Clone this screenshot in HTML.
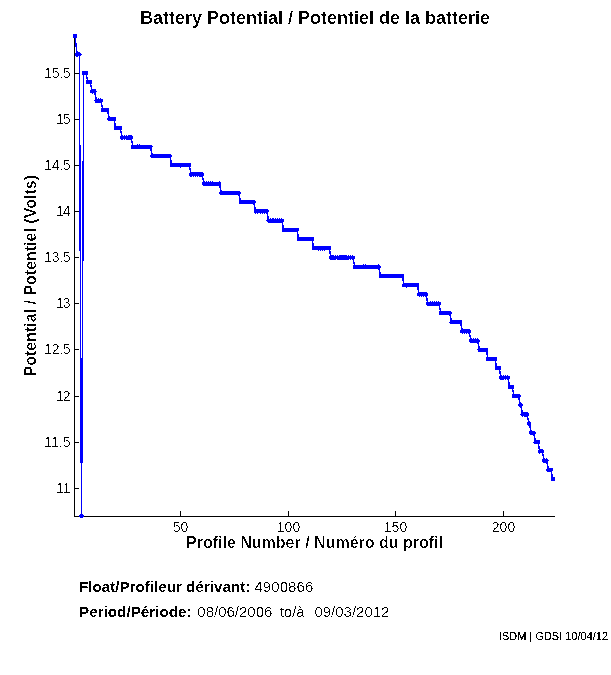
<!DOCTYPE html>
<html><head><meta charset="utf-8"><style>
html,body{margin:0;padding:0;background:#fff;}
svg{display:block;}
text{font-family:"Liberation Sans",Arial,Helvetica,sans-serif;fill:#000;}
.b{font-weight:bold;}
</style></head><body>
<svg width="611" height="675" viewBox="0 0 611 675">
<defs><filter id="thr" filterUnits="userSpaceOnUse" x="0" y="0" width="611" height="675" color-interpolation-filters="sRGB"><feComponentTransfer><feFuncA type="discrete" tableValues="0 0 0 1 1"/></feComponentTransfer></filter><filter id="thrM" filterUnits="userSpaceOnUse" x="0" y="0" width="611" height="675" color-interpolation-filters="sRGB"><feComponentTransfer><feFuncA type="discrete" tableValues="0 1"/></feComponentTransfer></filter><filter id="thrL" filterUnits="userSpaceOnUse" x="0" y="0" width="611" height="675" color-interpolation-filters="sRGB"><feComponentTransfer><feFuncA type="discrete" tableValues="0 0 1 1 1"/></feComponentTransfer></filter><filter id="thrB" filterUnits="userSpaceOnUse" x="0" y="0" width="611" height="675" color-interpolation-filters="sRGB"><feComponentTransfer><feFuncA type="discrete" tableValues="0 0 1"/></feComponentTransfer></filter></defs>
<rect width="611" height="675" fill="#fff"/>
<path d="M74.5 36V516.5H555 M74.5 488.5h4.5 M74.5 442.5h4.5 M74.5 396.5h4.5 M74.5 349.5h4.5 M74.5 303.5h4.5 M74.5 257.5h4.5 M74.5 211.5h4.5 M74.5 165.5h4.5 M74.5 119.5h4.5 M74.5 73.5h4.5 M180.5 516.5v-5.5 M288.5 516.5v-5.5 M395.5 516.5v-5.5 M503.5 516.5v-5.5" stroke="#000" stroke-width="1" fill="none" shape-rendering="crispEdges"/>
<g filter="url(#thr)">
<text class="b" filter="url(#thrB)" x="140" y="23.7" font-size="18" textLength="350" lengthAdjust="spacingAndGlyphs">Battery Potential / Potentiel de la batterie</text>
<g font-size="14"><text x="70.5" y="493" text-anchor="end" textLength="14.57">11</text><text x="70.5" y="447" text-anchor="end" textLength="26.26">11.5</text><text x="70.5" y="401" text-anchor="end" textLength="14.57">12</text><text x="70.5" y="354" text-anchor="end" textLength="26.26">12.5</text><text x="70.5" y="308" text-anchor="end" textLength="14.57">13</text><text x="70.5" y="262" text-anchor="end" textLength="26.26">13.5</text><text x="70.5" y="216" text-anchor="end" textLength="14.57">14</text><text x="70.5" y="170" text-anchor="end" textLength="26.26">14.5</text><text x="70.5" y="124" text-anchor="end" textLength="14.57">15</text><text x="70.5" y="78" text-anchor="end" textLength="26.26">15.5</text><text x="180.5" y="532" text-anchor="middle">50</text><text x="288.5" y="532" text-anchor="middle">100</text><text x="395.5" y="532" text-anchor="middle">150</text><text x="503.5" y="532" text-anchor="middle">200</text></g>
<text class="b" filter="url(#thrB)" x="186" y="547.7" font-size="16.5" textLength="257" lengthAdjust="spacingAndGlyphs">Profile Number / Numéro du profil</text>
<g filter="url(#thrB)"><text class="b" transform="translate(36,376.5) rotate(-90)" font-size="16.5" textLength="201.5" lengthAdjust="spacingAndGlyphs">Potential / Potentiel (Volts)</text></g>
<g font-size="15">
<text class="b" filter="url(#thrM)" x="79" y="591.6" textLength="171.3" lengthAdjust="spacingAndGlyphs">Float/Profileur dérivant:</text>
<text x="254.3" y="591.6" textLength="59">4900866</text>
<text class="b" filter="url(#thrM)" x="79" y="616.5" textLength="112.6" lengthAdjust="spacingAndGlyphs">Period/Période:</text>
<text x="197.3" y="616.5">08/06/2006</text>
<text x="279.7" y="616.5">to/à</text>
<text x="314.4" y="616.5">09/03/2012</text>
</g>
<text filter="url(#thrL)" x="499" y="640.4" font-size="10.5" textLength="109" lengthAdjust="spacingAndGlyphs">ISDM | GDSI 10/04/12</text>
</g>
<polyline points="75.00,36.00 77.15,54.46 79.34,54.46 81.51,516.00 83.70,72.92 85.76,72.92 87.91,82.15 90.07,82.15 92.22,91.38 94.37,91.38 96.53,100.61 98.68,100.61 100.83,100.61 102.98,109.84 105.13,109.84 107.29,109.84 109.44,119.08 111.59,119.08 113.75,119.08 115.90,128.31 118.05,128.31 120.20,128.31 122.35,137.54 124.51,137.54 126.66,137.54 128.81,137.54 130.97,137.54 133.12,146.77 135.27,146.77 137.42,146.77 139.57,146.77 141.73,146.77 143.88,146.77 146.03,146.77 148.19,146.77 150.34,146.77 152.49,156.00 154.64,156.00 156.79,156.00 158.95,156.00 161.10,156.00 163.25,156.00 165.41,156.00 167.56,156.00 169.71,156.00 171.86,165.23 174.01,165.23 176.17,165.23 178.32,165.23 180.47,165.23 182.62,165.23 184.78,165.23 186.93,165.23 189.08,165.23 191.23,174.46 193.39,174.46 195.54,174.46 197.69,174.46 199.84,174.46 202.00,174.46 204.15,183.69 206.30,183.69 208.45,183.69 210.61,183.69 212.76,183.69 214.91,183.69 217.06,183.69 219.22,183.69 221.37,192.92 223.52,192.92 225.67,192.92 227.83,192.92 229.98,192.92 232.13,192.92 234.28,192.92 236.44,192.92 238.59,192.92 240.74,202.15 242.89,202.15 245.05,202.15 247.20,202.15 249.35,202.15 251.50,202.15 253.66,202.15 255.81,211.38 257.96,211.38 260.12,211.38 262.27,211.38 264.42,211.38 266.57,211.38 268.73,220.61 270.88,220.61 273.03,220.61 275.18,220.61 277.33,220.61 279.49,220.61 281.64,220.61 283.79,229.85 285.94,229.85 288.10,229.85 290.25,229.85 292.40,229.85 294.55,229.85 296.71,229.85 298.86,239.08 301.01,239.08 303.16,239.08 305.32,239.08 307.47,239.08 309.62,239.08 311.77,239.08 313.93,248.31 316.08,248.31 318.23,248.31 320.38,248.31 322.54,248.31 324.69,248.31 326.84,248.31 329.00,248.31 331.15,257.54 333.30,257.54 335.45,257.54 337.60,257.54 339.76,257.54 341.91,257.54 344.06,257.54 346.21,257.54 348.37,257.54 350.52,257.54 352.67,257.54 354.82,266.77 356.98,266.77 359.13,266.77 361.28,266.77 363.44,266.77 365.59,266.77 367.74,266.77 369.89,266.77 372.04,266.77 374.20,266.77 376.35,266.77 378.50,266.77 380.65,276.00 382.81,276.00 384.96,276.00 387.11,276.00 389.26,276.00 391.42,276.00 393.57,276.00 395.72,276.00 397.88,276.00 400.03,276.00 402.18,276.00 404.33,285.23 406.48,285.23 408.64,285.23 410.79,285.23 412.94,285.23 415.09,285.23 417.25,285.23 419.40,294.46 421.55,294.46 423.70,294.46 425.86,294.46 428.01,303.69 430.16,303.69 432.31,303.69 434.47,303.69 436.62,303.69 438.77,303.69 440.92,312.92 443.08,312.92 445.23,312.92 447.38,312.92 449.53,312.92 451.69,322.15 453.84,322.15 455.99,322.15 458.14,322.15 460.30,322.15 462.45,331.38 464.60,331.38 466.75,331.38 468.91,331.38 471.06,340.61 473.21,340.61 475.36,340.61 477.52,340.61 479.67,349.85 481.82,349.85 483.97,349.85 486.13,349.85 488.28,359.08 490.43,359.08 492.58,359.08 494.74,359.08 496.89,368.31 499.04,368.31 501.19,377.54 503.35,377.54 505.50,377.54 507.65,377.54 509.80,386.77 511.96,386.77 514.11,396.00 516.26,396.00 518.41,396.00 520.57,405.23 522.72,414.46 524.87,414.46 527.02,414.46 529.18,423.69 531.33,432.92 533.48,432.92 535.63,442.15 537.79,442.15 539.94,451.38 542.09,451.38 544.24,460.62 546.40,460.62 548.55,469.85 550.70,469.85 552.86,479.08" fill="none" stroke="#0000ff" stroke-width="1.5" shape-rendering="crispEdges"/>
<g fill="#0000ff" shape-rendering="crispEdges"><circle cx="75.00" cy="36.00" r="2.3"/><circle cx="77.15" cy="54.46" r="2.3"/><circle cx="79.34" cy="54.46" r="2.3"/><circle cx="81.51" cy="516.00" r="2.3"/><circle cx="83.70" cy="72.92" r="2.3"/><circle cx="85.76" cy="72.92" r="2.3"/><circle cx="87.91" cy="82.15" r="2.3"/><circle cx="90.07" cy="82.15" r="2.3"/><circle cx="92.22" cy="91.38" r="2.3"/><circle cx="94.37" cy="91.38" r="2.3"/><circle cx="96.53" cy="100.61" r="2.3"/><circle cx="98.68" cy="100.61" r="2.3"/><circle cx="100.83" cy="100.61" r="2.3"/><circle cx="102.98" cy="109.84" r="2.3"/><circle cx="105.13" cy="109.84" r="2.3"/><circle cx="107.29" cy="109.84" r="2.3"/><circle cx="109.44" cy="119.08" r="2.3"/><circle cx="111.59" cy="119.08" r="2.3"/><circle cx="113.75" cy="119.08" r="2.3"/><circle cx="115.90" cy="128.31" r="2.3"/><circle cx="118.05" cy="128.31" r="2.3"/><circle cx="120.20" cy="128.31" r="2.3"/><circle cx="122.35" cy="137.54" r="2.3"/><circle cx="124.51" cy="137.54" r="2.3"/><circle cx="126.66" cy="137.54" r="2.3"/><circle cx="128.81" cy="137.54" r="2.3"/><circle cx="130.97" cy="137.54" r="2.3"/><circle cx="133.12" cy="146.77" r="2.3"/><circle cx="135.27" cy="146.77" r="2.3"/><circle cx="137.42" cy="146.77" r="2.3"/><circle cx="139.57" cy="146.77" r="2.3"/><circle cx="141.73" cy="146.77" r="2.3"/><circle cx="143.88" cy="146.77" r="2.3"/><circle cx="146.03" cy="146.77" r="2.3"/><circle cx="148.19" cy="146.77" r="2.3"/><circle cx="150.34" cy="146.77" r="2.3"/><circle cx="152.49" cy="156.00" r="2.3"/><circle cx="154.64" cy="156.00" r="2.3"/><circle cx="156.79" cy="156.00" r="2.3"/><circle cx="158.95" cy="156.00" r="2.3"/><circle cx="161.10" cy="156.00" r="2.3"/><circle cx="163.25" cy="156.00" r="2.3"/><circle cx="165.41" cy="156.00" r="2.3"/><circle cx="167.56" cy="156.00" r="2.3"/><circle cx="169.71" cy="156.00" r="2.3"/><circle cx="171.86" cy="165.23" r="2.3"/><circle cx="174.01" cy="165.23" r="2.3"/><circle cx="176.17" cy="165.23" r="2.3"/><circle cx="178.32" cy="165.23" r="2.3"/><circle cx="180.47" cy="165.23" r="2.3"/><circle cx="182.62" cy="165.23" r="2.3"/><circle cx="184.78" cy="165.23" r="2.3"/><circle cx="186.93" cy="165.23" r="2.3"/><circle cx="189.08" cy="165.23" r="2.3"/><circle cx="191.23" cy="174.46" r="2.3"/><circle cx="193.39" cy="174.46" r="2.3"/><circle cx="195.54" cy="174.46" r="2.3"/><circle cx="197.69" cy="174.46" r="2.3"/><circle cx="199.84" cy="174.46" r="2.3"/><circle cx="202.00" cy="174.46" r="2.3"/><circle cx="204.15" cy="183.69" r="2.3"/><circle cx="206.30" cy="183.69" r="2.3"/><circle cx="208.45" cy="183.69" r="2.3"/><circle cx="210.61" cy="183.69" r="2.3"/><circle cx="212.76" cy="183.69" r="2.3"/><circle cx="214.91" cy="183.69" r="2.3"/><circle cx="217.06" cy="183.69" r="2.3"/><circle cx="219.22" cy="183.69" r="2.3"/><circle cx="221.37" cy="192.92" r="2.3"/><circle cx="223.52" cy="192.92" r="2.3"/><circle cx="225.67" cy="192.92" r="2.3"/><circle cx="227.83" cy="192.92" r="2.3"/><circle cx="229.98" cy="192.92" r="2.3"/><circle cx="232.13" cy="192.92" r="2.3"/><circle cx="234.28" cy="192.92" r="2.3"/><circle cx="236.44" cy="192.92" r="2.3"/><circle cx="238.59" cy="192.92" r="2.3"/><circle cx="240.74" cy="202.15" r="2.3"/><circle cx="242.89" cy="202.15" r="2.3"/><circle cx="245.05" cy="202.15" r="2.3"/><circle cx="247.20" cy="202.15" r="2.3"/><circle cx="249.35" cy="202.15" r="2.3"/><circle cx="251.50" cy="202.15" r="2.3"/><circle cx="253.66" cy="202.15" r="2.3"/><circle cx="255.81" cy="211.38" r="2.3"/><circle cx="257.96" cy="211.38" r="2.3"/><circle cx="260.12" cy="211.38" r="2.3"/><circle cx="262.27" cy="211.38" r="2.3"/><circle cx="264.42" cy="211.38" r="2.3"/><circle cx="266.57" cy="211.38" r="2.3"/><circle cx="268.73" cy="220.61" r="2.3"/><circle cx="270.88" cy="220.61" r="2.3"/><circle cx="273.03" cy="220.61" r="2.3"/><circle cx="275.18" cy="220.61" r="2.3"/><circle cx="277.33" cy="220.61" r="2.3"/><circle cx="279.49" cy="220.61" r="2.3"/><circle cx="281.64" cy="220.61" r="2.3"/><circle cx="283.79" cy="229.85" r="2.3"/><circle cx="285.94" cy="229.85" r="2.3"/><circle cx="288.10" cy="229.85" r="2.3"/><circle cx="290.25" cy="229.85" r="2.3"/><circle cx="292.40" cy="229.85" r="2.3"/><circle cx="294.55" cy="229.85" r="2.3"/><circle cx="296.71" cy="229.85" r="2.3"/><circle cx="298.86" cy="239.08" r="2.3"/><circle cx="301.01" cy="239.08" r="2.3"/><circle cx="303.16" cy="239.08" r="2.3"/><circle cx="305.32" cy="239.08" r="2.3"/><circle cx="307.47" cy="239.08" r="2.3"/><circle cx="309.62" cy="239.08" r="2.3"/><circle cx="311.77" cy="239.08" r="2.3"/><circle cx="313.93" cy="248.31" r="2.3"/><circle cx="316.08" cy="248.31" r="2.3"/><circle cx="318.23" cy="248.31" r="2.3"/><circle cx="320.38" cy="248.31" r="2.3"/><circle cx="322.54" cy="248.31" r="2.3"/><circle cx="324.69" cy="248.31" r="2.3"/><circle cx="326.84" cy="248.31" r="2.3"/><circle cx="329.00" cy="248.31" r="2.3"/><circle cx="331.15" cy="257.54" r="2.3"/><circle cx="333.30" cy="257.54" r="2.3"/><circle cx="335.45" cy="257.54" r="2.3"/><circle cx="337.60" cy="257.54" r="2.3"/><circle cx="339.76" cy="257.54" r="2.3"/><circle cx="341.91" cy="257.54" r="2.3"/><circle cx="344.06" cy="257.54" r="2.3"/><circle cx="346.21" cy="257.54" r="2.3"/><circle cx="348.37" cy="257.54" r="2.3"/><circle cx="350.52" cy="257.54" r="2.3"/><circle cx="352.67" cy="257.54" r="2.3"/><circle cx="354.82" cy="266.77" r="2.3"/><circle cx="356.98" cy="266.77" r="2.3"/><circle cx="359.13" cy="266.77" r="2.3"/><circle cx="361.28" cy="266.77" r="2.3"/><circle cx="363.44" cy="266.77" r="2.3"/><circle cx="365.59" cy="266.77" r="2.3"/><circle cx="367.74" cy="266.77" r="2.3"/><circle cx="369.89" cy="266.77" r="2.3"/><circle cx="372.04" cy="266.77" r="2.3"/><circle cx="374.20" cy="266.77" r="2.3"/><circle cx="376.35" cy="266.77" r="2.3"/><circle cx="378.50" cy="266.77" r="2.3"/><circle cx="380.65" cy="276.00" r="2.3"/><circle cx="382.81" cy="276.00" r="2.3"/><circle cx="384.96" cy="276.00" r="2.3"/><circle cx="387.11" cy="276.00" r="2.3"/><circle cx="389.26" cy="276.00" r="2.3"/><circle cx="391.42" cy="276.00" r="2.3"/><circle cx="393.57" cy="276.00" r="2.3"/><circle cx="395.72" cy="276.00" r="2.3"/><circle cx="397.88" cy="276.00" r="2.3"/><circle cx="400.03" cy="276.00" r="2.3"/><circle cx="402.18" cy="276.00" r="2.3"/><circle cx="404.33" cy="285.23" r="2.3"/><circle cx="406.48" cy="285.23" r="2.3"/><circle cx="408.64" cy="285.23" r="2.3"/><circle cx="410.79" cy="285.23" r="2.3"/><circle cx="412.94" cy="285.23" r="2.3"/><circle cx="415.09" cy="285.23" r="2.3"/><circle cx="417.25" cy="285.23" r="2.3"/><circle cx="419.40" cy="294.46" r="2.3"/><circle cx="421.55" cy="294.46" r="2.3"/><circle cx="423.70" cy="294.46" r="2.3"/><circle cx="425.86" cy="294.46" r="2.3"/><circle cx="428.01" cy="303.69" r="2.3"/><circle cx="430.16" cy="303.69" r="2.3"/><circle cx="432.31" cy="303.69" r="2.3"/><circle cx="434.47" cy="303.69" r="2.3"/><circle cx="436.62" cy="303.69" r="2.3"/><circle cx="438.77" cy="303.69" r="2.3"/><circle cx="440.92" cy="312.92" r="2.3"/><circle cx="443.08" cy="312.92" r="2.3"/><circle cx="445.23" cy="312.92" r="2.3"/><circle cx="447.38" cy="312.92" r="2.3"/><circle cx="449.53" cy="312.92" r="2.3"/><circle cx="451.69" cy="322.15" r="2.3"/><circle cx="453.84" cy="322.15" r="2.3"/><circle cx="455.99" cy="322.15" r="2.3"/><circle cx="458.14" cy="322.15" r="2.3"/><circle cx="460.30" cy="322.15" r="2.3"/><circle cx="462.45" cy="331.38" r="2.3"/><circle cx="464.60" cy="331.38" r="2.3"/><circle cx="466.75" cy="331.38" r="2.3"/><circle cx="468.91" cy="331.38" r="2.3"/><circle cx="471.06" cy="340.61" r="2.3"/><circle cx="473.21" cy="340.61" r="2.3"/><circle cx="475.36" cy="340.61" r="2.3"/><circle cx="477.52" cy="340.61" r="2.3"/><circle cx="479.67" cy="349.85" r="2.3"/><circle cx="481.82" cy="349.85" r="2.3"/><circle cx="483.97" cy="349.85" r="2.3"/><circle cx="486.13" cy="349.85" r="2.3"/><circle cx="488.28" cy="359.08" r="2.3"/><circle cx="490.43" cy="359.08" r="2.3"/><circle cx="492.58" cy="359.08" r="2.3"/><circle cx="494.74" cy="359.08" r="2.3"/><circle cx="496.89" cy="368.31" r="2.3"/><circle cx="499.04" cy="368.31" r="2.3"/><circle cx="501.19" cy="377.54" r="2.3"/><circle cx="503.35" cy="377.54" r="2.3"/><circle cx="505.50" cy="377.54" r="2.3"/><circle cx="507.65" cy="377.54" r="2.3"/><circle cx="509.80" cy="386.77" r="2.3"/><circle cx="511.96" cy="386.77" r="2.3"/><circle cx="514.11" cy="396.00" r="2.3"/><circle cx="516.26" cy="396.00" r="2.3"/><circle cx="518.41" cy="396.00" r="2.3"/><circle cx="520.57" cy="405.23" r="2.3"/><circle cx="522.72" cy="414.46" r="2.3"/><circle cx="524.87" cy="414.46" r="2.3"/><circle cx="527.02" cy="414.46" r="2.3"/><circle cx="529.18" cy="423.69" r="2.3"/><circle cx="531.33" cy="432.92" r="2.3"/><circle cx="533.48" cy="432.92" r="2.3"/><circle cx="535.63" cy="442.15" r="2.3"/><circle cx="537.79" cy="442.15" r="2.3"/><circle cx="539.94" cy="451.38" r="2.3"/><circle cx="542.09" cy="451.38" r="2.3"/><circle cx="544.24" cy="460.62" r="2.3"/><circle cx="546.40" cy="460.62" r="2.3"/><circle cx="548.55" cy="469.85" r="2.3"/><circle cx="550.70" cy="469.85" r="2.3"/><circle cx="552.86" cy="479.08" r="2.3"/></g>
</svg>
</body></html>
